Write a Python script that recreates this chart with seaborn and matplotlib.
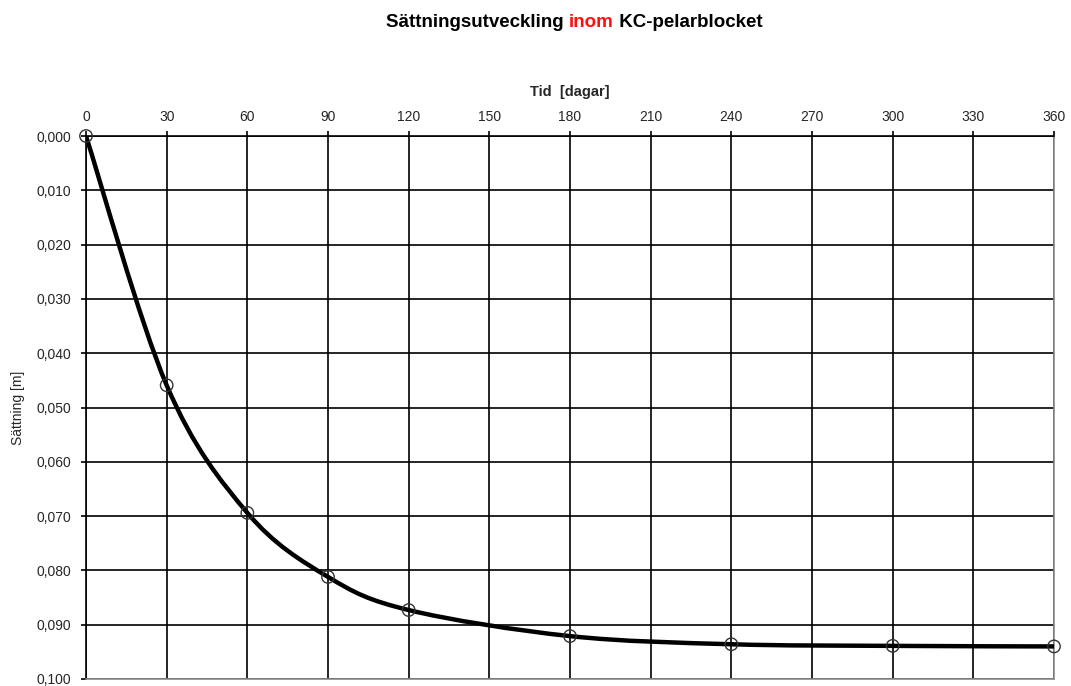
import numpy as np
import matplotlib
matplotlib.use("Agg")
import matplotlib.pyplot as plt
import seaborn as sns
import pandas as pd
from matplotlib.path import Path
from matplotlib.patches import PathPatch
from matplotlib.ticker import FuncFormatter

# data
tid = [0, 30, 60, 90, 120, 180, 240, 300, 360]
sattning = [0.0, 0.0459, 0.0694, 0.0812, 0.0873, 0.0921, 0.0936, 0.0939, 0.0940]
x_ticks = list(range(0, 361, 30))
y_ticks = [0.0, 0.01, 0.02, 0.03, 0.04, 0.05, 0.06, 0.07, 0.08, 0.09, 0.1]

sns.set_theme(style="white")
plt.rcParams["font.family"] = ["Liberation Sans", "DejaVu Sans"]

df = pd.DataFrame({"tid": tid, "sattning": sattning})

fig = plt.figure(figsize=(10.71, 6.86), dpi=100)
ax = fig.add_axes([86 / 1071, 1 - 679 / 686, (1054 - 86) / 1071, (679 - 136) / 686])

# smoothed line (Excel style, Catmull-Rom -> cubic bezier)
pts = np.column_stack([tid, sattning])
verts = [tuple(pts[0])]
codes = [Path.MOVETO]
n = len(pts)
for i in range(n - 1):
    p0 = pts[max(i - 1, 0)]
    p1 = pts[i]
    p2 = pts[i + 1]
    p3 = pts[min(i + 2, n - 1)]
    c1 = p1 + (p2 - p0) / 6
    c2 = p2 - (p3 - p1) / 6
    verts += [tuple(c1), tuple(c2), tuple(p2)]
    codes += [Path.CURVE4] * 3
ax.add_patch(PathPatch(Path(verts, codes), facecolor="none", edgecolor="black",
                       lw=3.2, zorder=3, capstyle="round", joinstyle="round"))

sns.scatterplot(data=df, x="tid", y="sattning", ax=ax, marker="o", s=80,
                facecolor="none", edgecolor="#333333", linewidth=1.0, zorder=4,
                clip_on=False)

ax.set_xlim(0, 360)
ax.set_ylim(0.1, 0.0)
ax.set_xticks(x_ticks)
ax.set_yticks(y_ticks)
ax.yaxis.set_major_formatter(FuncFormatter(lambda v, p: f"{v:.3f}".replace(".", ",")))
ax.xaxis.tick_top()
ax.xaxis.set_label_position("top")
ax.tick_params(axis="both", which="major", labelsize=10, length=3.5, width=1.2,
               color="black", direction="out")
ax.tick_params(axis="x", top=True, bottom=False, pad=5)
ax.tick_params(axis="y", left=True, pad=7)

ax.grid(True, color="black", linewidth=1.2)
ax.set_axisbelow(True)
for side in ["left", "top"]:
    ax.spines[side].set_color("black")
    ax.spines[side].set_linewidth(1.2)
for side in ["right", "bottom"]:
    ax.spines[side].set_color("#8c8c8c")
    ax.spines[side].set_linewidth(1.2)

ax.set_xlabel("Tid  [dagar]", fontsize=10.5, fontweight="bold", labelpad=10)
ax.set_ylabel("Sättning [m]", fontsize=10, labelpad=8)
ax.set_xticklabels([str(t) for t in x_ticks])

# title with red word
t1 = fig.text(386 / 1071, 1 - 27 / 686, "Sättningsutveckling ", fontsize=13.5,
              fontweight="bold", color="black", va="baseline", ha="left")
t2 = ax.annotate("inom", xycoords=t1, xy=(1, 0), va="bottom", ha="left",
                 fontsize=13.5, fontweight="bold", color="#ff1010",
                 annotation_clip=False)
t3 = ax.annotate(" KC-pelarblocket", xycoords=t2, xy=(1, 0), va="bottom", ha="left",
                 fontsize=13.5, fontweight="bold", color="black",
                 annotation_clip=False)

fig.savefig("out.png", dpi=100, facecolor="white")
